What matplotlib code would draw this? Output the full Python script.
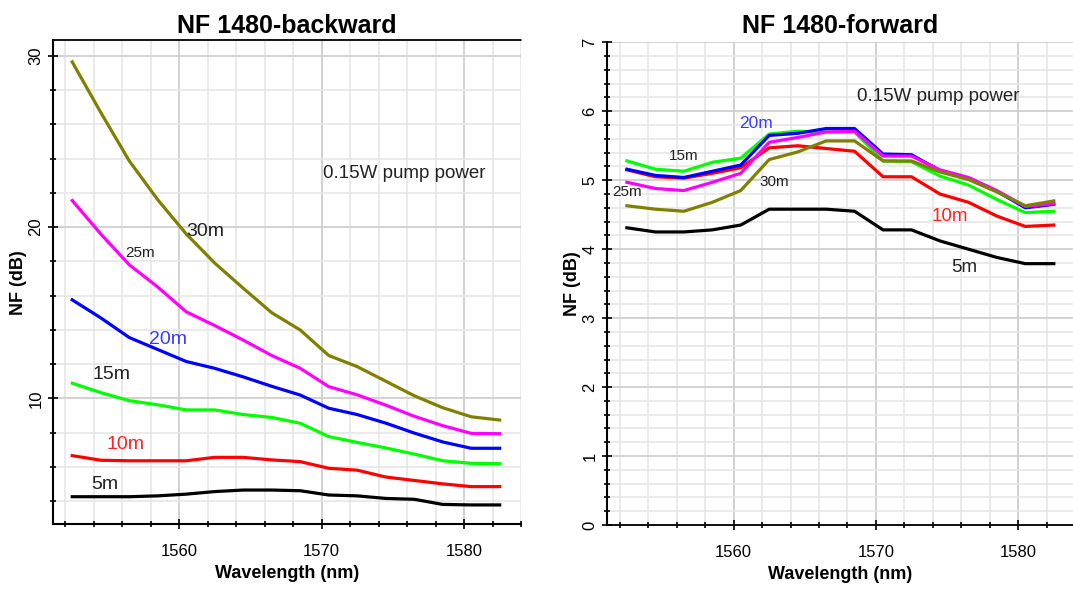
#!/usr/bin/env python3
import matplotlib
matplotlib.use("Agg")
import matplotlib.pyplot as plt
from matplotlib.ticker import MultipleLocator

plt.rcParams['font.family'] = ['Liberation Sans', 'DejaVu Sans']

# wavelength samples (nm), shared by every curve
wavelength = [1552.5, 1554.5, 1556.5, 1558.5, 1560.5, 1562.5, 1564.5, 1566.5,
              1568.5, 1570.5, 1572.5, 1574.5, 1576.5, 1578.5, 1580.5, 1582.5]

fiber_lengths = ['5m', '10m', '15m', '20m', '25m', '30m']
line_colors = ['#000000', '#ff0000', '#00ff00', '#0000ff', '#ff00ff', '#808000']

# NF (dB), 1480 nm backward pumping
nf_backward = {
    '5m':  [4.25, 4.25, 4.25, 4.3, 4.4, 4.55, 4.64, 4.64, 4.6, 4.35, 4.3, 4.15, 4.1, 3.8, 3.77, 3.77],
    '10m': [6.65, 6.38, 6.35, 6.35, 6.35, 6.55, 6.55, 6.4, 6.3, 5.91, 5.8, 5.4, 5.2, 5.0, 4.84, 4.84],
    '15m': [10.88, 10.33, 9.86, 9.62, 9.32, 9.32, 9.05, 8.88, 8.54, 7.76, 7.42, 7.1, 6.74, 6.35, 6.2, 6.18],
    '20m': [15.75, 14.7, 13.55, 12.85, 12.15, 11.75, 11.25, 10.7, 10.19, 9.42, 9.05, 8.55, 7.97, 7.45, 7.08, 7.08],
    '25m': [21.55, 19.6, 17.8, 16.5, 15.05, 14.25, 13.4, 12.5, 11.75, 10.68, 10.2, 9.6, 8.95, 8.4, 7.95, 7.93],
    '30m': [29.65, 26.7, 23.87, 21.6, 19.6, 17.9, 16.43, 15.0, 13.99, 12.5, 11.85, 11.0, 10.15, 9.45, 8.92, 8.73],
}

# NF (dB), 1480 nm forward pumping
nf_forward = {
    '5m':  [4.31, 4.25, 4.25, 4.28, 4.35, 4.58, 4.58, 4.58, 4.55, 4.28, 4.28, 4.12, 4.0, 3.88, 3.79, 3.79],
    '10m': [5.15, 5.05, 5.03, 5.1, 5.18, 5.47, 5.5, 5.46, 5.42, 5.05, 5.05, 4.8, 4.68, 4.48, 4.33, 4.35],
    '15m': [5.28, 5.16, 5.13, 5.26, 5.32, 5.67, 5.71, 5.7, 5.7, 5.28, 5.27, 5.06, 4.93, 4.72, 4.53, 4.55],
    '20m': [5.16, 5.07, 5.04, 5.13, 5.22, 5.65, 5.68, 5.75, 5.75, 5.38, 5.37, 5.14, 5.02, 4.84, 4.6, 4.65],
    '25m': [4.97, 4.88, 4.85, 4.97, 5.1, 5.55, 5.62, 5.7, 5.71, 5.35, 5.35, 5.15, 5.04, 4.85, 4.62, 4.66],
    '30m': [4.63, 4.58, 4.55, 4.68, 4.85, 5.3, 5.41, 5.57, 5.57, 5.28, 5.28, 5.12, 5.01, 4.83, 4.63, 4.7],
}

# curve labels: (x, y, size, color) in data units
labels_backward = {
    '30m': (1560.5, 19.75, 14, '#222222'),
    '25m': (1556.2, 18.5, 11, '#222222'),
    '20m': (1557.9, 13.45, 14, '#3a3aff'),
    '15m': (1553.9, 11.4, 14, '#222222'),
    '10m': (1554.9, 7.3, 14, '#ff2020'),
    '5m':  (1553.8, 4.97, 14, '#222222'),
}
labels_forward = {
    '15m': (1555.45, 5.35, 11, '#222222'),
    '20m': (1560.4, 5.83, 12.5, '#3a3aff'),
    '25m': (1551.45, 4.83, 11, '#222222'),
    '30m': (1561.8, 4.97, 11, '#222222'),
    '10m': (1573.9, 4.48, 13.5, '#ff2020'),
    '5m':  (1575.3, 3.74, 13.5, '#222222'),
}
note = '0.15W pump power'


def style_axes(ax, ymajor, yminor):
    ax.xaxis.set_major_locator(MultipleLocator(10))
    ax.xaxis.set_minor_locator(MultipleLocator(2))
    ax.yaxis.set_major_locator(MultipleLocator(ymajor))
    ax.yaxis.set_minor_locator(MultipleLocator(yminor))
    ax.grid(which='major', color='#cfcfcf', linewidth=1.3)
    ax.grid(which='minor', color='#e6e6e6', linewidth=1.2)
    ax.set_axisbelow(True)
    ax.tick_params(which='both', direction='inout', width=1.2)
    ax.tick_params(which='major', length=7, labelsize=12)
    ax.tick_params(which='minor', length=5)
    ax.tick_params(axis='x', pad=11)
    ax.tick_params(axis='y', labelrotation=90)
    for lab in ax.get_yticklabels():
        lab.set_verticalalignment('center')
    ax.spines['left'].set_linewidth(1.5)
    ax.spines['right'].set_visible(False)
    ax.set_xlabel('Wavelength (nm)', fontsize=13, fontweight='bold', labelpad=4)
    ax.set_ylabel('NF (dB)', fontsize=13, fontweight='bold', labelpad=1)


fig = plt.figure(figsize=(10.73, 5.92), dpi=100)

# left: backward pumping
ax1 = fig.add_axes([0.0494, 0.1144, 0.4362, 0.818])
for name, col in zip(fiber_lengths, line_colors):
    ax1.plot(wavelength, nf_backward[name], color=col, linewidth=2.3)
for name, (x, y, s, c) in labels_backward.items():
    ax1.text(x, y, name, fontsize=s, color=c, ha='left', va='center')
ax1.text(1570.1, 23.15, note, fontsize=13.5, color='#222222', ha='left', va='center')
ax1.set_xlim(1551.15, 1584)
ax1.set_ylim(2.64, 30.93)
style_axes(ax1, 10, 2)
ax1.spines['top'].set_linestyle((0, (1, 1)))
ax1.spines['top'].set_linewidth(1.3)
ax1.spines['bottom'].set_linewidth(1.5)
ax1.set_title('NF 1480-backward', fontsize=18, fontweight='bold', pad=5)

# right: forward pumping
ax2 = fig.add_axes([0.5657, 0.1132, 0.4343, 0.8153])
for name, col in zip(fiber_lengths, line_colors):
    ax2.plot(wavelength, nf_forward[name], color=col, linewidth=2.3)
for name, (x, y, s, c) in labels_forward.items():
    ax2.text(x, y, name, fontsize=s, color=c, ha='left', va='center')
ax2.text(1568.7, 6.22, note, fontsize=13.5, color='#222222', ha='left', va='center')
ax2.set_xlim(1551.1, 1583.85)
ax2.set_ylim(0, 7)
style_axes(ax2, 1, 0.2)
ax2.spines['top'].set_visible(False)
ax2.spines['bottom'].set_linestyle((0, (1, 1)))
ax2.spines['bottom'].set_linewidth(1.3)
ax2.set_title('NF 1480-forward', fontsize=18, fontweight='bold', pad=7)

plt.savefig('out.png', dpi=100)
